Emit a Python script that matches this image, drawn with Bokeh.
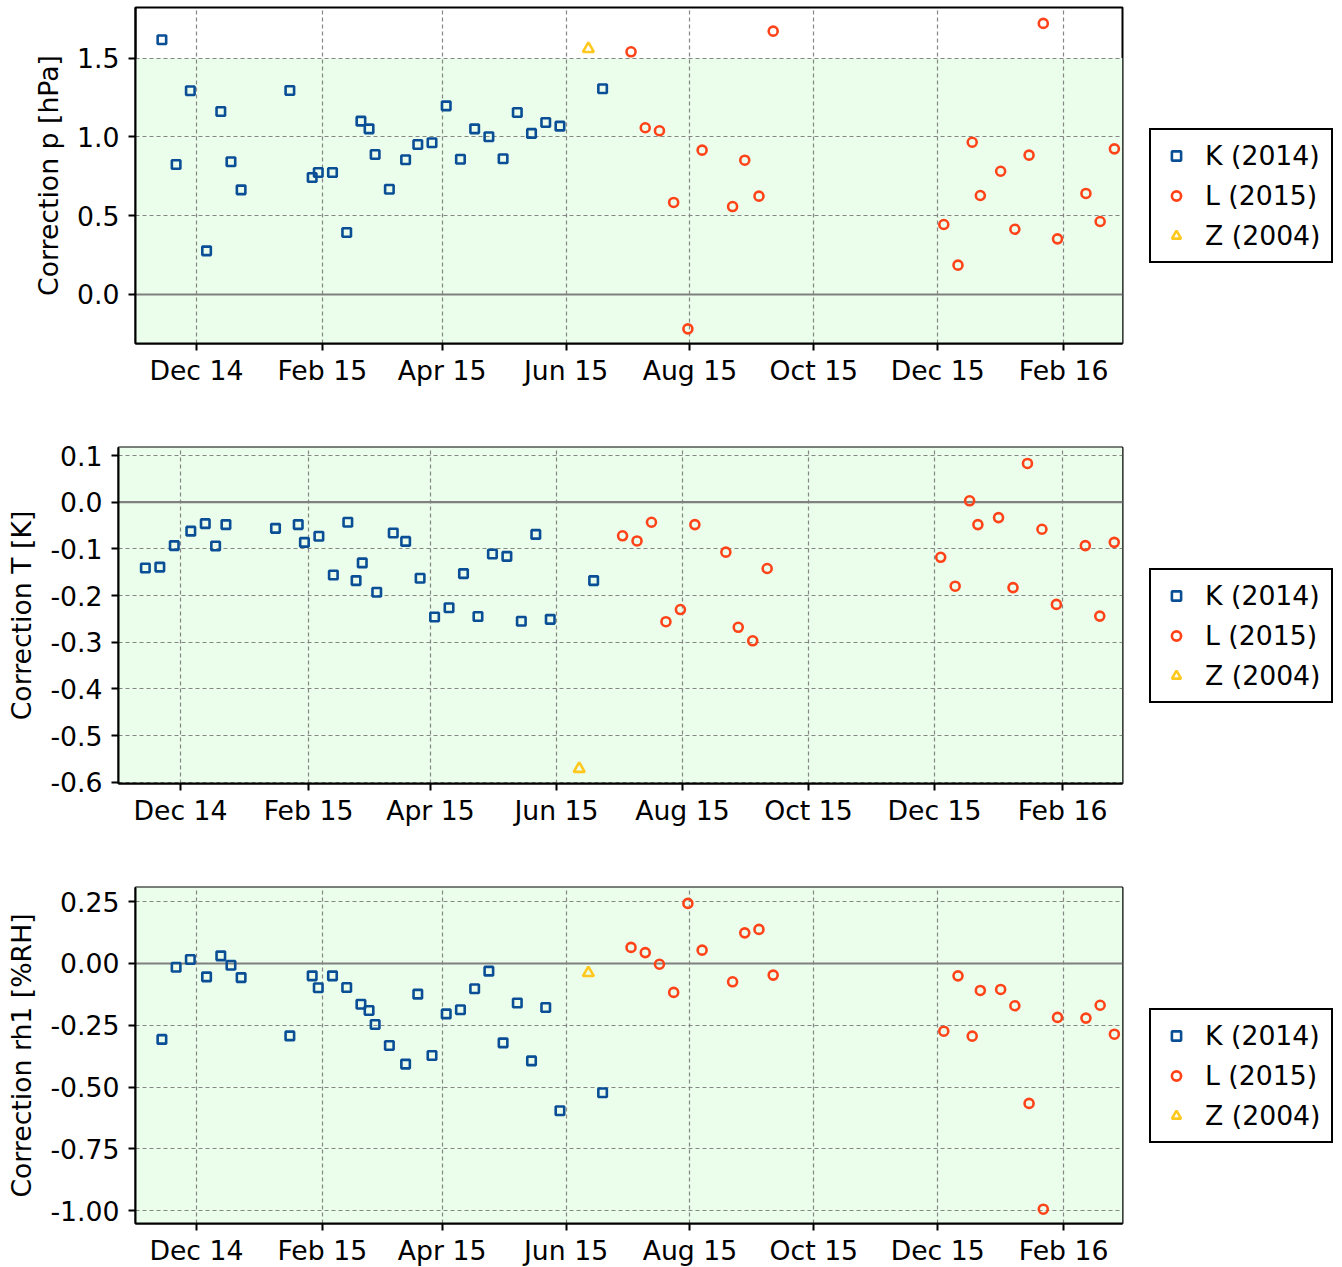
import datetime as dt
import pandas as pd
from bokeh.plotting import figure
from bokeh.models import (Range1d, FixedTicker, PrintfTickFormatter, DatetimeTickFormatter,
                          BoxAnnotation, Span, Legend, LegendItem)
from bokeh.layouts import column
from bokeh.embed import file_html
from bokeh.resources import INLINE

# ---------------- data ----------------
k_dates = ["2014-11-14", "2014-11-21", "2014-11-28", "2014-12-06", "2014-12-13", "2014-12-18",
           "2014-12-23", "2015-01-16", "2015-01-27", "2015-01-30", "2015-02-06", "2015-02-13",
           "2015-02-20", "2015-02-24", "2015-02-27", "2015-03-06", "2015-03-14", "2015-03-20",
           "2015-03-27", "2015-04-03", "2015-04-10", "2015-04-17", "2015-04-24", "2015-05-01",
           "2015-05-08", "2015-05-15", "2015-05-22", "2015-05-29", "2015-06-19"]
k_p = [1.616, 0.825, 1.293, 0.277, 1.161, 0.842, 0.664, 1.294, 0.742, 0.774, 0.774, 0.393,
       1.100, 1.051, 0.888, 0.668, 0.855, 0.952, 0.963, 1.197, 0.858, 1.051, 1.001, 0.861,
       1.155, 1.022, 1.091, 1.068, 1.305]
k_t = [-0.141, -0.139, -0.093, -0.062, -0.046, -0.094, -0.048, -0.056, -0.048, -0.086, -0.073,
       -0.156, -0.043, -0.168, -0.130, -0.193, -0.066, -0.084, -0.163, -0.246, -0.226, -0.153,
       -0.245, -0.111, -0.116, -0.255, -0.069, -0.251, -0.168]
k_rh = [-0.307, -0.015, 0.016, -0.054, 0.031, -0.007, -0.057, -0.293, -0.050, -0.098, -0.050,
        -0.097, -0.165, -0.190, -0.247, -0.332, -0.407, -0.124, -0.372, -0.204, -0.187, -0.102,
        -0.031, -0.321, -0.160, -0.394, -0.178, -0.596, -0.523]

l_dates = ["2015-07-03", "2015-07-10", "2015-07-17", "2015-07-24", "2015-07-31", "2015-08-07",
           "2015-08-22", "2015-08-28", "2015-09-04", "2015-09-11", "2015-12-04", "2015-12-11",
           "2015-12-18", "2015-12-22", "2016-01-01", "2016-01-08", "2016-01-15", "2016-01-22",
           "2016-01-29", "2016-02-12", "2016-02-19", "2016-02-26"]
l_p = [1.540, 1.058, 1.039, 0.584, -0.218, 0.916, 0.558, 0.852, 0.624, 1.671, 0.444, 0.186,
       0.966, 0.628, 0.782, 0.414, 0.884, 1.720, 0.353, 0.641, 0.463, 0.924]
l_t = [-0.072, -0.083, -0.043, -0.256, -0.230, -0.048, -0.107, -0.268, -0.297, -0.142, -0.118,
       -0.180, 0.003, -0.048, -0.033, -0.183, 0.083, -0.058, -0.219, -0.093, -0.244, -0.086]
l_rh = [0.065, 0.044, -0.003, -0.117, 0.243, 0.054, -0.074, 0.124, 0.138, -0.047, -0.274,
        -0.050, -0.294, -0.109, -0.105, -0.171, -0.566, -0.994, -0.218, -0.221, -0.169, -0.286]

z_dates = ["2015-06-12"]
z_p = [1.559]
z_t = [-0.571]
z_rh = [-0.038]

series_labels = ["K (2014)", "L (2015)", "Z (2004)"]
x_tick_dates = ["2014-12-01", "2015-02-01", "2015-04-01", "2015-06-01", "2015-08-01",
                "2015-10-01", "2015-12-01", "2016-02-01"]
p_ticks = [0.0, 0.5, 1.0, 1.5]
t_ticks = [0.1, 0.0, -0.1, -0.2, -0.3, -0.4, -0.5, -0.6]
rh_ticks = [0.25, 0.0, -0.25, -0.5, -0.75, -1.0]

# ---------------- styling ----------------
FONT = "DejaVu Sans"
FS = "26.7px"
BLUE = "#0a4f96"
RED = "#ff4318"
YELLOW = "#ffc81e"
GREEN = "#ebfdeb"

xticks_ms = [int(pd.Timestamp(d).value // 10**6) for d in x_tick_dates]


def make_panel(ylabel, kv, lv, zv, yr, yticks, fmt, band, left, fwidth, top_b, bot_b):
    p = figure(x_axis_type="datetime", output_backend="svg", toolbar_location=None,
               frame_width=fwidth, frame_height=336, frame_align=False,
               x_range=Range1d(dt.datetime(2014, 11, 1), dt.datetime(2016, 3, 1)),
               y_range=Range1d(yr[0], yr[1]),
               min_border_left=left, min_border_right=215,
               min_border_top=top_b, min_border_bottom=bot_b)
    p.background_fill_color = "white"
    p.border_fill_color = "white"
    p.outline_line_color = "black"
    p.outline_line_width = 2
    p.outline_line_alpha = 1

    box = BoxAnnotation(bottom=band[0], top=band[1], fill_color=GREEN, fill_alpha=1,
                        line_alpha=0, level="image")
    p.add_layout(box)

    for g in (p.xgrid, p.ygrid):
        g.grid_line_color = "#7a7a7a"
        g.grid_line_dash = "4 3"
        g.grid_line_width = 1.2
        g.grid_line_alpha = 0.9
    p.xgrid.ticker = FixedTicker(ticks=xticks_ms)
    p.ygrid.ticker = FixedTicker(ticks=yticks)

    zero = Span(location=0, dimension="width", line_color="#808080", line_width=2.2,
                level="underlay")
    p.add_layout(zero)

    p.xaxis.ticker = FixedTicker(ticks=xticks_ms)
    p.xaxis.formatter = DatetimeTickFormatter(days="%b %y", months="%b %y", years="%b %y",
                                              hours="%b %y", minutes="%b %y")
    p.yaxis.ticker = FixedTicker(ticks=yticks)
    p.yaxis.formatter = PrintfTickFormatter(format=fmt)
    p.yaxis.axis_label = ylabel
    for ax in (p.xaxis, p.yaxis):
        ax.axis_line_color = "black"
        ax.axis_line_width = 2
        ax.major_tick_line_color = "black"
        ax.major_tick_line_width = 2
        ax.major_tick_out = 7
        ax.major_tick_in = 0
        ax.minor_tick_line_color = None
        ax.major_label_text_font = FONT
        ax.major_label_text_font_size = FS
        ax.major_label_text_color = "black"
        ax.axis_label_text_font = FONT
        ax.axis_label_text_font_size = FS
        ax.axis_label_text_font_style = "normal"
        ax.axis_label_text_color = "black"
        ax.axis_label_standoff = 10
    p.yaxis.major_label_standoff = 9
    p.xaxis.major_label_standoff = 4

    kd = pd.to_datetime(k_dates)
    ld = pd.to_datetime(l_dates)
    zd = pd.to_datetime(z_dates)
    rk = p.scatter(kd, kv, marker="square", size=8.5, line_color=BLUE, line_width=2.6,
                   fill_alpha=0)
    rl = p.scatter(ld, lv, marker="circle", size=9, line_color=RED, line_width=2.6,
                   fill_alpha=0)
    rz = p.scatter(zd, zv, marker="triangle", size=11, line_color=YELLOW, line_width=2.6,
                   fill_alpha=0)

    leg = Legend(items=[LegendItem(label=series_labels[0], renderers=[rk]),
                        LegendItem(label=series_labels[1], renderers=[rl]),
                        LegendItem(label=series_labels[2], renderers=[rz])],
                 location=(27, 80), margin=0, padding=10, spacing=9,
                 glyph_width=30, glyph_height=23, label_height=30, label_standoff=14,
                 label_text_font=FONT, label_text_font_size=FS, label_text_color="black",
                 border_line_color="black", border_line_width=2, border_line_alpha=1,
                 background_fill_color="white", background_fill_alpha=1)
    p.add_layout(leg, "right")
    return p


p1 = make_panel("Correction p [hPa]", k_p, l_p, z_p, (-0.311, 1.821), p_ticks, "%.1f",
                (-5, 1.5), 135, 987, 7, 80)
p2 = make_panel("Correction T [K]", k_t, l_t, z_t, (-0.6027, 0.1172), t_ticks, "%.1f",
                (-5, 5), 118, 1004, 24, 80)
p3 = make_panel("Correction rh1 [%RH]", k_rh, l_rh, z_rh, (-1.0518, 0.3074), rh_ticks, "%.2f",
                (-5, 5), 135, 987, 24, 40)

layout = column(p1, p2, p3, spacing=0)
open("out.html", "w").write(file_html(layout, INLINE))
